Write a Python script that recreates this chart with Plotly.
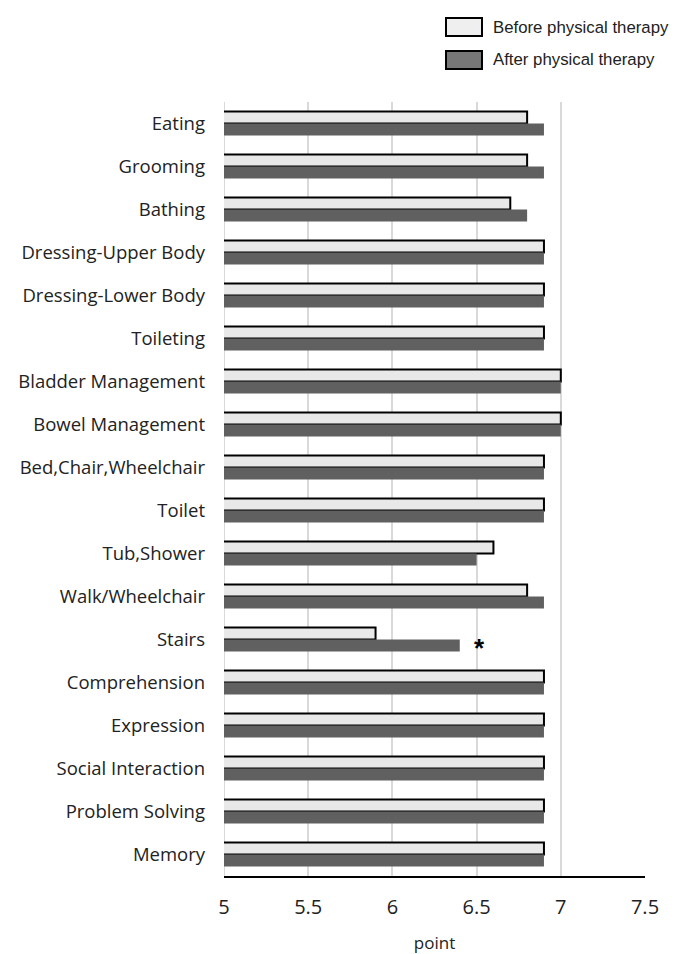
import plotly.graph_objects as go

categories = ["Eating", "Grooming", "Bathing", "Dressing-Upper Body", "Dressing-Lower Body",
              "Toileting", "Bladder Management", "Bowel Management", "Bed,Chair,Wheelchair",
              "Toilet", "Tub,Shower", "Walk/Wheelchair", "Stairs", "Comprehension",
              "Expression", "Social Interaction", "Problem Solving", "Memory"]
before = [6.8, 6.8, 6.7, 6.9, 6.9, 6.9, 7.0, 7.0, 6.9, 6.9, 6.6, 6.8, 5.9, 6.9, 6.9, 6.9, 6.9, 6.9]
after = [6.9, 6.9, 6.8, 6.9, 6.9, 6.9, 7.0, 7.0, 6.9, 6.9, 6.5, 6.9, 6.4, 6.9, 6.9, 6.9, 6.9, 6.9]
x_ticks = [5, 5.5, 6, 6.5, 7, 7.5]
x_tick_labels = ["5", "5.5", "6", "6.5", "7", "7.5"]

L, R, T, B = 224, 38, 102, 78
W, H = 683, 954
PW, PH = W - L - R, H - T - B

def px(x):
    return (x - L) / PW

def py(y):
    return (H - B - y) / PH

fig = go.Figure()
fig.add_trace(go.Bar(y=categories, x=before, orientation="h", name="Before physical therapy",
                     base=0, marker=dict(color="#e8e8e8", line=dict(color="black", width=2))))
fig.add_trace(go.Bar(y=categories, x=after, orientation="h", name="After physical therapy",
                     base=0, marker=dict(color="#606060", line=dict(color="#606060", width=0))))

fig.add_annotation(x=6.52, y="Stairs", text="<b>*</b>", showarrow=False, yshift=-8,
                   font=dict(size=26, color="black", family="Liberation Sans"), xanchor="center")

# gridline at the left edge (x = 5)
fig.add_shape(type="line", xref="x", yref="paper", x0=x_ticks[0], x1=x_ticks[0], y0=0, y1=1,
              line=dict(color="#d9d9d9", width=2), layer="below")

# custom legend
fig.add_shape(type="rect", xref="paper", yref="paper", x0=px(446), x1=px(482),
              y0=py(36), y1=py(18), fillcolor="#efefef", line=dict(color="black", width=2))
fig.add_shape(type="rect", xref="paper", yref="paper", x0=px(446), x1=px(482),
              y0=py(69), y1=py(51), fillcolor="#777777", line=dict(color="black", width=2))
fig.add_annotation(xref="paper", yref="paper", x=px(491), y=py(27), text="Before physical therapy",
                   showarrow=False, xanchor="left", yanchor="middle",
                   font=dict(size=16.8, color="#222", family="Liberation Sans"))
fig.add_annotation(xref="paper", yref="paper", x=px(491), y=py(60), text="After physical therapy",
                   showarrow=False, xanchor="left", yanchor="middle",
                   font=dict(size=16.8, color="#222", family="Liberation Sans"))

fig.update_layout(
    width=W, height=H,
    margin=dict(l=L, r=R, t=T, b=B),
    plot_bgcolor="white", paper_bgcolor="white",
    barmode="group", bargap=0.44, bargroupgap=0,
    showlegend=False,
    font=dict(family="Open Sans", color="#222"),
    xaxis=dict(range=[5, 7.5], tickvals=x_ticks, ticktext=x_tick_labels,
               showgrid=True, gridcolor="#d9d9d9", gridwidth=2,
               showline=True, linecolor="black", linewidth=2, zeroline=False,
               tickfont=dict(size=20), ticks="", ticklabelstandoff=12,
               title=dict(text="point", font=dict(size=17), standoff=18),
               automargin=False),
    yaxis=dict(autorange="reversed", tickfont=dict(size=18.5), ticks="", showgrid=False,
               showline=False, ticklabelstandoff=18, automargin=False),
)

fig.write_html("out.html", config={"displayModeBar": False},
               post_script="document.body.style.margin='0';document.body.style.overflow='hidden';")
